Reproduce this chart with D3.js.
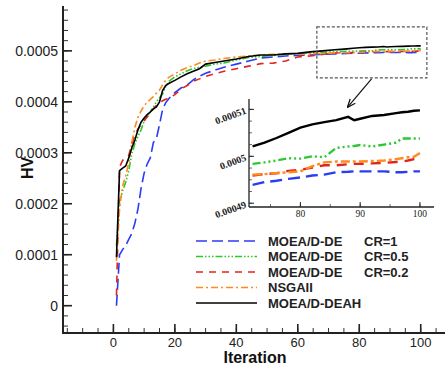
<!DOCTYPE html>
<html>
<head>
<meta charset="utf-8">
<script src="https://cdnjs.cloudflare.com/ajax/libs/d3/7.8.5/d3.min.js"></script>
<style>
  body { margin: 0; background: #fff; }
  text { font-family: "Liberation Sans", Arial, sans-serif; }
</style>
</head>
<body>
<div id="chart"></div>
<script>
// iterations
var iterations = [1,2,3,4,5,6,7,8,9,10,11,12,13,14,15,16,17,18,20,22,24,26,28,30,33,36,40,44,48,52,56,60,64,68,72,74,76,78,80,82,84,86,88,89,90,92,94,96,97,98,99,100];

// HV values, in units of 1e-4
var hvCR1 = [0.0,1.0,1.1,1.18,1.3,1.42,1.62,1.9,2.3,2.6,2.78,2.9,3.2,3.28,3.55,3.85,3.98,4.06,4.18,4.27,4.33,4.43,4.5,4.56,4.62,4.68,4.74,4.8,4.86,4.88,4.9,4.91,4.92,4.93,4.939,4.945,4.948,4.952,4.955,4.959,4.961,4.966,4.967,4.968,4.968,4.968,4.968,4.966,4.966,4.967,4.968,4.968];
var hvCR05 = [1.18,2.05,2.25,2.42,2.65,2.98,3.18,3.32,3.45,3.62,3.72,3.8,3.9,4.0,4.08,4.15,4.3,4.4,4.49,4.55,4.61,4.65,4.68,4.7,4.74,4.76,4.82,4.87,4.89,4.91,4.93,4.95,4.96,4.97,4.984,4.987,4.991,4.996,4.995,5.0,4.998,5.018,5.021,5.022,5.024,5.021,5.025,5.029,5.038,5.038,5.038,5.038];
var hvCR02 = [0.2,2.72,2.85,2.92,2.95,3.18,3.35,3.47,3.55,3.63,3.7,3.78,3.86,3.93,3.98,4.02,4.05,4.07,4.14,4.25,4.32,4.4,4.45,4.5,4.55,4.6,4.65,4.7,4.75,4.76,4.8,4.88,4.9,4.93,4.959,4.962,4.964,4.969,4.971,4.976,4.981,4.981,4.983,4.984,4.984,4.985,4.986,4.988,4.989,4.991,4.994,4.996];
var hvNSGA = [0.88,1.9,2.35,2.55,2.8,3.2,3.5,3.7,3.82,3.92,3.99,4.05,4.1,4.17,4.23,4.33,4.42,4.48,4.55,4.62,4.67,4.71,4.76,4.8,4.82,4.85,4.88,4.9,4.92,4.93,4.94,4.93,4.94,4.95,4.961,4.962,4.964,4.966,4.968,4.979,4.987,4.989,4.989,4.989,4.989,4.99,4.991,4.994,4.996,4.998,4.999,5.007];
var hvDEAH = [0.95,2.65,2.7,2.74,2.9,3.1,3.25,3.45,3.6,3.68,3.75,3.8,3.86,3.9,4.0,4.22,4.32,4.36,4.42,4.49,4.55,4.6,4.65,4.74,4.77,4.8,4.84,4.89,4.92,4.92,4.94,4.95,4.98,5.0,5.021,5.029,5.039,5.05,5.061,5.068,5.073,5.077,5.084,5.077,5.08,5.086,5.088,5.092,5.094,5.095,5.097,5.098];

var seriesNames = ["MOEA/D-DE", "MOEA/D-DE", "MOEA/D-DE", "NSGAII", "MOEA/D-DEAH"];
var seriesCR = ["CR=1", "CR=0.5", "CR=0.2", "", ""];

var yTicks = [0, 0.0001, 0.0002, 0.0003, 0.0004, 0.0005];
var xTicks = [0, 20, 40, 60, 80, 100];
var insetYTicks = [0.00049, 0.0005, 0.00051];
var insetXTicks = [80, 90, 100];

function draw_hv_chart() {
    var width = 445, height = 366;
    var unit = 1e-4;

    var series = [
        { values: hvCR1, color: "#2b3cf5", dash: "11,5", insetDash: "12,6" },
        { values: hvCR05, color: "#2ec72e", dash: "7,2,1.5,2,1.5,2,1.5,2", insetDash: "8,3,2,3,2,3,2,3" },
        { values: hvCR02, color: "#e0251f", dash: "7,6", insetDash: "10,7" },
        { values: hvNSGA, color: "#ff8a1e", dash: "7,3,2,3", insetDash: "9,3,3,3" },
        { values: hvDEAH, color: "#000000", dash: null, insetDash: null }
    ];
    series.forEach(function(s, i) {
        s.name = seriesNames[i];
        s.cr = seriesCR[i];
        s.points = iterations.map(function(it, j) { return [it, s.values[j] * unit]; });
    });

    var svg = d3.select("#chart").append("svg")
        .attr("width", width)
        .attr("height", height)
        .style("background-color", "white");

    // main axes
    var x = d3.scaleLinear().domain([-16.4, 107.9]).range([63, 445]);
    var y = d3.scaleLinear().domain([-0.0000536, 0.000588]).range([333, 6]);

    svg.append("defs").append("clipPath").attr("id", "main_clip")
        .append("rect")
        .attr("x", 63).attr("y", 6).attr("width", 382).attr("height", 327);

    var line = d3.line()
        .x(function(d) { return x(d[0]); })
        .y(function(d) { return y(d[1]); });

    var plot = svg.append("g").attr("clip-path", "url(#main_clip)");
    plot.selectAll("path")
        .data(series)
        .enter()
        .append("path")
        .attr("d", function(d) { return line(d.points); })
        .attr("fill", "none")
        .attr("stroke", function(d) { return d.color; })
        .attr("stroke-width", 1.6)
        .attr("stroke-dasharray", function(d) { return d.dash; });

    // y axis: minor ticks every 0.00002
    var yMinor = d3.range(-0.00004, 0.000581, 0.00002);
    var yAxis = svg.append("g").attr("class", "y-axis");
    yAxis.selectAll("line.minor")
        .data(yMinor)
        .enter()
        .append("line")
        .attr("x1", 63).attr("x2", 68)
        .attr("y1", function(d) { return y(d); })
        .attr("y2", function(d) { return y(d); })
        .attr("stroke", "#333").attr("stroke-width", 1);
    yAxis.selectAll("line.major")
        .data(yTicks)
        .enter()
        .append("line")
        .attr("x1", 63).attr("x2", 72)
        .attr("y1", function(d) { return y(d); })
        .attr("y2", function(d) { return y(d); })
        .attr("stroke", "#222").attr("stroke-width", 1.6);
    yAxis.selectAll("text")
        .data(yTicks)
        .enter()
        .append("text")
        .attr("x", 58)
        .attr("y", function(d) { return y(d); })
        .attr("dy", "0.36em")
        .style("text-anchor", "end")
        .style("font-size", "14px")
        .style("fill", "#222")
        .text(function(d) { return d === 0 ? "0" : d3.format(".4f")(d); });
    yAxis.append("line")
        .attr("x1", 63).attr("x2", 63).attr("y1", 6).attr("y2", 334)
        .attr("stroke", "#222").attr("stroke-width", 2);

    // x axis: minor ticks every 5
    var xMinor = d3.range(-15, 106, 5);
    var xAxis = svg.append("g").attr("class", "x-axis");
    xAxis.selectAll("line.minor")
        .data(xMinor)
        .enter()
        .append("line")
        .attr("x1", function(d) { return x(d); })
        .attr("x2", function(d) { return x(d); })
        .attr("y1", 333).attr("y2", 328)
        .attr("stroke", "#333").attr("stroke-width", 1);
    xAxis.selectAll("line.major")
        .data(xTicks)
        .enter()
        .append("line")
        .attr("x1", function(d) { return x(d); })
        .attr("x2", function(d) { return x(d); })
        .attr("y1", 333).attr("y2", 324)
        .attr("stroke", "#222").attr("stroke-width", 1.6);
    xAxis.selectAll("text")
        .data(xTicks)
        .enter()
        .append("text")
        .attr("x", function(d) { return x(d); })
        .attr("y", 346.5)
        .style("text-anchor", "middle")
        .style("font-size", "13px")
        .style("fill", "#222")
        .text(function(d) { return d; });
    xAxis.append("line")
        .attr("x1", 62).attr("x2", 445).attr("y1", 333).attr("y2", 333)
        .attr("stroke", "#222").attr("stroke-width", 2);

    svg.append("text")
        .attr("x", 255).attr("y", 362.5)
        .style("text-anchor", "middle")
        .style("font-size", "16px")
        .style("font-weight", "bold")
        .style("fill", "#111")
        .text("Iteration");
    svg.append("text")
        .attr("transform", "translate(33,168) rotate(-90)")
        .style("text-anchor", "middle")
        .style("font-size", "16px")
        .style("font-weight", "bold")
        .style("fill", "#111")
        .text("HV");

    // zoom box and arrow
    var zoomBox = { x0: 66.2, x1: 102, y0: 0.000447, y1: 0.000547 };
    var arrow = { fromX: 84, fromY: 0.000445, toX: 76.3, toY: 0.00039 };

    svg.append("rect")
        .attr("x", x(zoomBox.x0))
        .attr("y", y(zoomBox.y1))
        .attr("width", x(zoomBox.x1) - x(zoomBox.x0))
        .attr("height", y(zoomBox.y0) - y(zoomBox.y1))
        .attr("fill", "none")
        .attr("stroke", "#555")
        .attr("stroke-width", 1.2)
        .attr("stroke-dasharray", "3,2");

    svg.select("defs").append("marker")
        .attr("id", "arrowhead")
        .attr("viewBox", "0 0 10 10")
        .attr("refX", 9).attr("refY", 5)
        .attr("markerWidth", 7).attr("markerHeight", 7)
        .attr("orient", "auto")
        .append("path")
        .attr("d", "M0,1 L10,5 L0,9")
        .attr("fill", "none")
        .attr("stroke", "#111")
        .attr("stroke-width", 1.5);

    svg.append("line")
        .attr("x1", x(arrow.fromX)).attr("y1", y(arrow.fromY))
        .attr("x2", x(arrow.toX)).attr("y2", y(arrow.toY))
        .attr("stroke", "#111").attr("stroke-width", 1.2)
        .attr("marker-end", "url(#arrowhead)");

    // inset
    var ix = d3.scaleLinear().domain([71.4, 102.35]).range([249, 434]);
    var iy = d3.scaleLinear().domain([0.0004892, 0.000512]).range([207, 100]);

    svg.select("defs").append("clipPath").attr("id", "inset_clip")
        .append("rect")
        .attr("x", 249).attr("y", 100).attr("width", 185).attr("height", 107);

    var iline = d3.line()
        .x(function(d) { return ix(d[0]); })
        .y(function(d) { return iy(d[1]); });

    var inset = svg.append("g").attr("class", "inset");
    inset.append("g").attr("clip-path", "url(#inset_clip)")
        .selectAll("path")
        .data(series)
        .enter()
        .append("path")
        .attr("d", function(d) { return iline(d.points.filter(function(p) { return p[0] >= 72; })); })
        .attr("fill", "none")
        .attr("stroke", function(d) { return d.color; })
        .attr("stroke-width", 2.4)
        .attr("stroke-dasharray", function(d) { return d.insetDash; });

    var iyMinor = d3.range(0.00049, 0.0005121, 0.0000025);
    inset.selectAll("line.iyminor")
        .data(iyMinor)
        .enter()
        .append("line")
        .attr("x1", 249).attr("x2", 252)
        .attr("y1", function(d) { return iy(d); })
        .attr("y2", function(d) { return iy(d); })
        .attr("stroke", "#444").attr("stroke-width", 0.8);
    inset.selectAll("line.iymajor")
        .data(insetYTicks)
        .enter()
        .append("line")
        .attr("x1", 249).attr("x2", 254)
        .attr("y1", function(d) { return iy(d); })
        .attr("y2", function(d) { return iy(d); })
        .attr("stroke", "#222").attr("stroke-width", 1);
    inset.selectAll("text.iy")
        .data(insetYTicks)
        .enter()
        .append("text")
        .attr("transform", function(d) { return "translate(247," + (iy(d) + 4) + ") rotate(-20)"; })
        .style("text-anchor", "end")
        .style("font-family", "'Liberation Serif', 'Times New Roman', serif")
        .style("font-size", "10px")
        .style("font-weight", "bold")
        .style("fill", "#222")
        .text(function(d) { return d3.format(".5~f")(d); });

    var ixMinor = d3.range(75, 101, 5);
    inset.selectAll("line.ixminor")
        .data(ixMinor)
        .enter()
        .append("line")
        .attr("x1", function(d) { return ix(d); })
        .attr("x2", function(d) { return ix(d); })
        .attr("y1", 207).attr("y2", 204)
        .attr("stroke", "#444").attr("stroke-width", 0.8);
    inset.selectAll("line.ixmajor")
        .data(insetXTicks)
        .enter()
        .append("line")
        .attr("x1", function(d) { return ix(d); })
        .attr("x2", function(d) { return ix(d); })
        .attr("y1", 207).attr("y2", 202)
        .attr("stroke", "#222").attr("stroke-width", 1);
    inset.selectAll("text.ix")
        .data(insetXTicks)
        .enter()
        .append("text")
        .attr("x", function(d) { return ix(d); })
        .attr("y", 217)
        .style("text-anchor", "middle")
        .style("font-family", "'Liberation Serif', 'Times New Roman', serif")
        .style("font-size", "9.5px")
        .style("fill", "#222")
        .text(function(d) { return d; });
    inset.append("line")
        .attr("x1", 249).attr("x2", 249).attr("y1", 99).attr("y2", 207)
        .attr("stroke", "#222").attr("stroke-width", 1.3);
    inset.append("line")
        .attr("x1", 249).attr("x2", 434).attr("y1", 207).attr("y2", 207)
        .attr("stroke", "#222").attr("stroke-width", 1.3);

    // legend
    var legend = svg.append("g").attr("class", "legend");
    var rows = legend.selectAll("g")
        .data(series)
        .enter()
        .append("g")
        .attr("transform", function(d, i) { return "translate(0," + (241 + i * 15.5) + ")"; });
    rows.append("line")
        .attr("x1", 196).attr("x2", 257)
        .attr("stroke", function(d) { return d.color; })
        .attr("stroke-width", 1.6)
        .attr("stroke-dasharray", function(d) { return d.dash; });
    rows.append("text")
        .attr("x", 268).attr("dy", "0.36em")
        .style("font-size", "13px")
        .style("font-weight", "bold")
        .style("fill", "#222")
        .text(function(d) { return d.name; });
    rows.append("text")
        .attr("x", 364).attr("dy", "0.36em")
        .style("font-size", "13px")
        .style("font-weight", "bold")
        .style("fill", "#222")
        .text(function(d) { return d.cr; });
}

draw_hv_chart();
</script>
</body>
</html>
